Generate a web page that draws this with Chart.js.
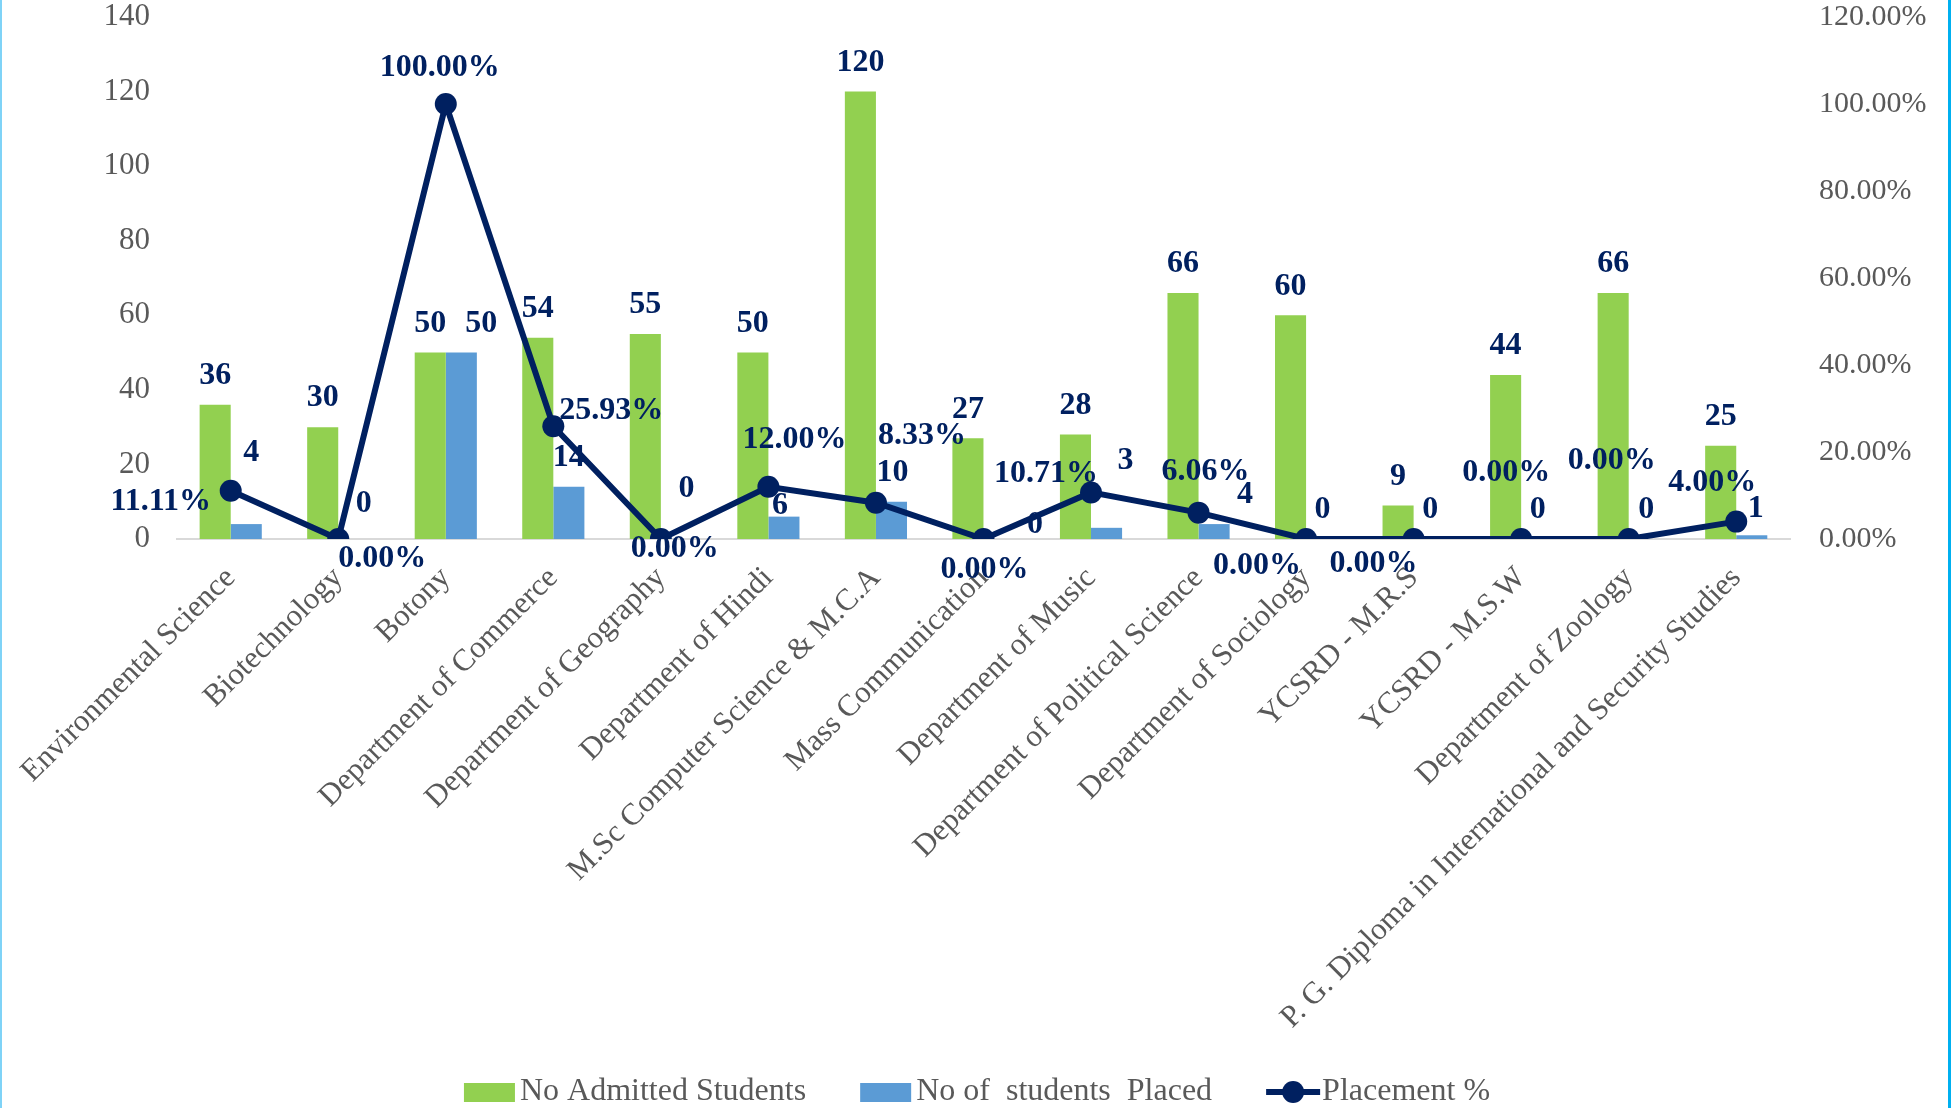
<!DOCTYPE html>
<html>
<head>
<meta charset="utf-8">
<script src="https://cdn.jsdelivr.net/npm/chart.js@4.4.0/dist/chart.umd.min.js"></script>
<style>
  html, body { margin: 0; padding: 0; background: #ffffff; }
  #contenedor { width: 1951px; height: 1108px; position: relative; }
</style>
</head>
<body>
<div id="contenedor"><canvas id="grafico" width="1951" height="1108"></canvas></div>
<script>
// Datos del gráfico
const departamentos = [
  "Environmental Science",
  "Biotechnology",
  "Botony",
  "Department of Commerce",
  "Department of Geography",
  "Department of Hindi",
  "M.Sc Computer Science & M.C.A",
  "Mass Communication",
  "Department of Music",
  "Department of Political Science",
  "Department of Sociology",
  "YCSRD - M.R.S",
  "YCSRD - M.S.W",
  "Department of Zoology",
  "P. G. Diploma in International and Security Studies"
];
const admitidos = [36, 30, 50, 54, 55, 50, 120, 27, 28, 66, 60, 9, 44, 66, 25];
const colocados = [4, 0, 50, 14, 0, 6, 10, 0, 3, 4, 0, 0, 0, 0, 1];
const porcentaje = [11.11, 0, 100, 25.93, 0, 12, 8.33, 0, 10.71, 6.06, 0, 0, 0, 0, 4];

const ticksIzquierda = { min: 0, max: 140, paso: 20 };
const ticksDerecha = { min: 0, max: 120, paso: 20 };

// desplazamiento de las etiquetas (px) respecto a la marca
const ajusteColocados = [
  [5, -71], [10, -35], [20, -29], [0, -29], [10, -50], [-4, -11], [1, -29], [36, -14],
  [19, -67], [31, -29], [1, -29], [1, -29], [1, -29], [2, -29], [4, -27]
];
const ajustePorcentaje = [
  [-70, 11], [44, 20], [-6, -36], [58, -15], [14, 10], [26, -47], [46, -67], [1, 31],
  [-45, -19], [7, -41], [-49, 27], [-40, 25], [-15, -66], [-17, -78], [-24, -39]
];

const VERDE = "#92D050";
const AZUL = "#5B9BD5";
const MARINO = "#002060";
const GRIS = "#595959";
const FUENTE = '"Liberation Serif", "Times New Roman", serif';

// Etiquetas de datos, dibujadas justo después de cada serie
const etiquetasPlugin = {
  id: "etiquetas",
  afterDatasetDraw(chart, args) {
    const ds = chart.data.datasets[args.index];
    const meta = args.meta;
    const ctx = chart.ctx;
    ctx.save();
    ctx.font = "bold 32px " + FUENTE;
    ctx.fillStyle = MARINO;
    ctx.textAlign = "center";
    ctx.textBaseline = "middle";
    meta.data.forEach((el, j) => {
      const d = ds.ajuste ? ds.ajuste[j] : [0, -29];
      const v = ds.data[j];
      const texto = ds.yAxisID === "y1" ? v.toFixed(2) + "%" : String(v);
      ctx.fillText(texto, el.x + d[0], el.y + d[1]);
    });
    ctx.restore();
  },
  afterDraw(chart) {
    const ctx = chart.ctx;
    ctx.save();
    // bordes laterales
    ctx.fillStyle = "#7FD3F7";
    ctx.fillRect(0, 0, 2, 1108);
    ctx.fillStyle = "#00B0F0";
    ctx.fillRect(1948, 0, 3, 1108);

    // leyenda
    ctx.font = "32px " + FUENTE;
    ctx.textBaseline = "middle";
    ctx.textAlign = "left";
    const yc = 1092;
    const items = chart.data.datasets.map((ds) => ({
      texto: ds.label,
      tipo: ds.type,
      color: ds.type === "line" ? ds.borderColor : ds.backgroundColor,
      ancho: ctx.measureText(ds.label).width
    }));
    const orden = [1, 2, 0];
    const marca = 56, hueco = 54;
    let total = 0;
    orden.forEach((k, n) => {
      total += marca + items[k].ancho + (n < orden.length - 1 ? hueco : 0);
    });
    let x = 977 - total / 2;
    orden.forEach((k) => {
      const it = items[k];
      if (it.tipo === "line") {
        ctx.strokeStyle = it.color;
        ctx.lineWidth = 6;
        ctx.beginPath();
        ctx.moveTo(x, yc);
        ctx.lineTo(x + 54, yc);
        ctx.stroke();
        ctx.fillStyle = it.color;
        ctx.beginPath();
        ctx.arc(x + 27, yc, 11, 0, Math.PI * 2);
        ctx.fill();
      } else {
        ctx.fillStyle = it.color;
        ctx.fillRect(x, yc - 9, 51, 19);
      }
      ctx.fillStyle = GRIS;
      ctx.fillText(it.texto, x + marca, yc);
      x += marca + it.ancho + hueco;
    });
    ctx.restore();
  }
};

// ancho fijo del eje y sin relleno vertical extra
function fijarEjeY(ancho) {
  return (scale) => {
    scale.width = ancho;
    scale.paddingTop = 0;
    scale.paddingBottom = 0;
  };
}

const ctx = document.getElementById("grafico").getContext("2d");
const grafico = new Chart(ctx, {
  type: "bar",
  data: {
    labels: departamentos,
    datasets: [
      {
        type: "line",
        label: "Placement %",
        data: porcentaje,
        yAxisID: "y1",
        borderColor: MARINO,
        backgroundColor: MARINO,
        borderWidth: 6,
        pointRadius: 11,
        pointHoverRadius: 11,
        pointBackgroundColor: MARINO,
        pointBorderWidth: 0,
        tension: 0,
        order: 0,
        ajuste: ajustePorcentaje
      },
      {
        label: "No Admitted Students",
        data: admitidos,
        yAxisID: "y",
        backgroundColor: VERDE,
        barPercentage: 1,
        categoryPercentage: 0.578,
        order: 1
      },
      {
        label: "No of  students  Placed",
        data: colocados,
        yAxisID: "y",
        backgroundColor: AZUL,
        barPercentage: 1,
        categoryPercentage: 0.578,
        order: 2,
        ajuste: ajusteColocados
      }
    ]
  },
  options: {
    responsive: false,
    animation: false,
    devicePixelRatio: 1,
    layout: { padding: { top: 17, bottom: 0, left: 0, right: 0 } },
    plugins: {
      legend: { display: false },
      tooltip: { enabled: false }
    },
    scales: {
      x: {
        grid: { display: false, drawTicks: false },
        border: { display: true, color: "#D9D9D9", width: 2 },
        ticks: {
          color: GRIS,
          font: { family: FUENTE, size: 31 },
          minRotation: 45,
          maxRotation: 45,
          autoSkip: false,
          padding: 21
        },
        afterFit(scale) { scale.height = 569; }
      },
      y: {
        position: "left",
        min: ticksIzquierda.min,
        max: ticksIzquierda.max,
        grid: { display: false, drawTicks: false },
        border: { display: false },
        ticks: {
          stepSize: ticksIzquierda.paso,
          color: GRIS,
          font: { family: FUENTE, size: 31 },
          padding: 27
        },
        afterFit: fijarEjeY(174)
      },
      y1: {
        position: "right",
        min: ticksDerecha.min,
        max: ticksDerecha.max,
        grid: { display: false, drawTicks: false },
        border: { display: false },
        ticks: {
          stepSize: ticksDerecha.paso,
          color: GRIS,
          font: { family: FUENTE, size: 30 },
          padding: 29,
          callback: (v) => v.toFixed(2) + "%"
        },
        afterFit: fijarEjeY(161)
      }
    }
  },
  plugins: [etiquetasPlugin]
});
</script>
</body>
</html>
